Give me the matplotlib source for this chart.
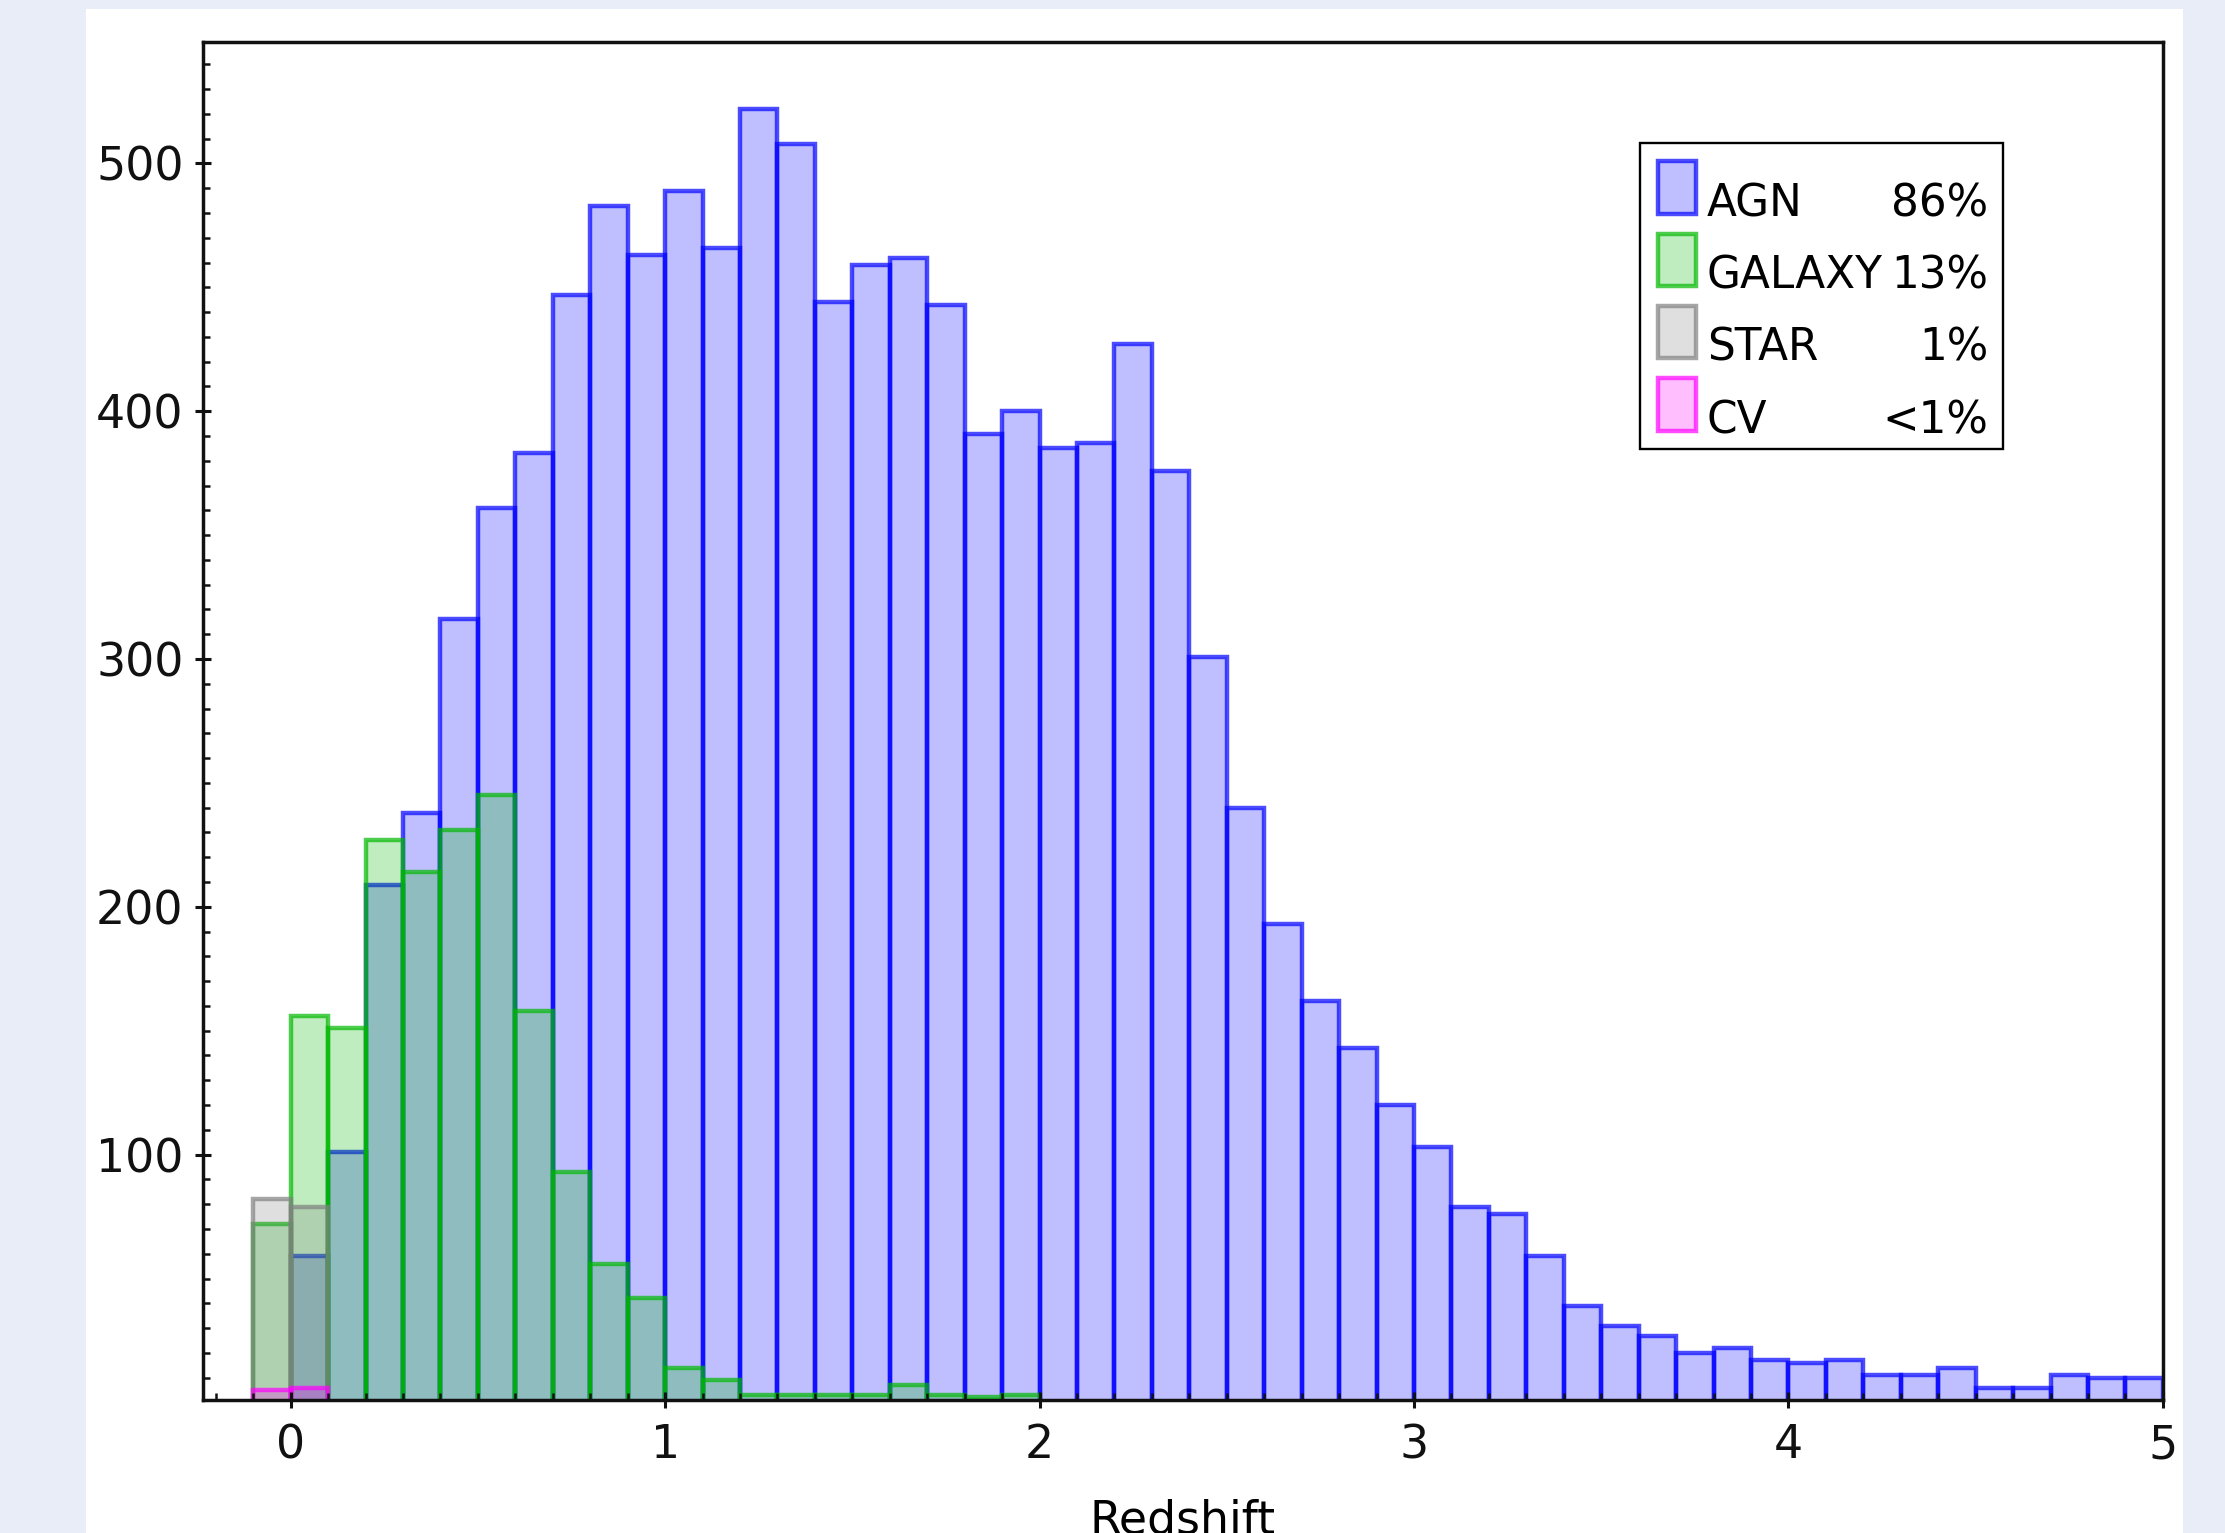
import matplotlib
matplotlib.use("Agg")
import matplotlib.pyplot as plt
from matplotlib.patches import Rectangle
from matplotlib.ticker import MultipleLocator
import numpy as np

# histogram bins: left edges from -0.1 to 4.9, width 0.1
bin_width = 0.1
bin_left = np.round(np.arange(-0.1, 4.95, bin_width), 2)

agn_counts = [0, 59, 101, 209, 238, 316, 361, 383, 447, 483,
              463, 489, 466, 522, 508, 444, 459, 462, 443, 391,
              400, 385, 387, 427, 376, 301, 240, 193, 162, 143,
              120, 103, 79, 76, 59, 39, 31, 27, 20, 22,
              17, 16, 17, 11, 11, 14, 6, 6, 11, 10,
              10]
galaxy_counts = [72, 156, 151, 227, 214, 231, 245, 158, 93, 56,
                 42, 14, 9, 3, 3, 3, 3, 7, 3, 2,
                 3] + [0] * 30
star_counts = [82, 79] + [0] * 49
cv_counts = [5, 6] + [0] * 49

names = ["AGN", "GALAXY", "STAR", "CV"]
percents = ["86%", "13%", "1%", "<1%"]
colors = [(0.0, 0.0, 1.0), (0.0, 0.72, 0.0), (0.5, 0.5, 0.5), (1.0, 0.0, 1.0)]

plt.rcParams["font.family"] = "DejaVu Sans"
plt.rcParams["font.size"] = 33

fig = plt.figure(figsize=(22.25, 15.33), dpi=100, facecolor="#E8EDF8")
fig.add_artist(Rectangle((0.0387, 0.0), 0.9424, 0.9941, transform=fig.transFigure,
                         facecolor="white", edgecolor="none", zorder=-1))
ax = fig.add_axes([0.0911, 0.0868, 0.8810, 0.8858])


def draw_hist(counts, rgb):
    counts = np.array(counts)
    keep = counts > 0
    return ax.bar(bin_left[keep], counts[keep], width=bin_width, align="edge",
                  facecolor=(*rgb, 0.25), edgecolor=(*rgb, 0.7), linewidth=3.2)


handles = []
for counts, rgb in zip([agn_counts, galaxy_counts, star_counts, cv_counts], colors):
    handles.append(draw_hist(counts, rgb))

ax.set_xlim(-0.235, 5.0)
ax.set_ylim(1, 549)
ax.xaxis.set_major_locator(MultipleLocator(1))
ax.xaxis.set_minor_locator(MultipleLocator(0.1))
ax.yaxis.set_major_locator(MultipleLocator(100))
ax.yaxis.set_minor_locator(MultipleLocator(10))
ax.tick_params(which="major", direction="inout", length=11.5, width=2.2, pad=8,
               labelsize=33, colors="#111111")
ax.tick_params(axis="x", which="major", pad=11)
ax.tick_params(which="minor", direction="in", length=5, width=1.8, colors="#111111")
ax.tick_params(top=False, right=False)
for sp in ax.spines.values():
    sp.set_linewidth(2.5)
    sp.set_color("#111111")

ax.set_xlabel("Redshift", fontsize=33, labelpad=22)

leg = ax.legend(handles, names, loc="upper left",
                bbox_to_anchor=(0.7332, 0.5, 0.1852, 0.4256), mode="expand",
                borderaxespad=0, fontsize=31.5, handlelength=0.86, handleheight=1.46,
                labelspacing=0.46, borderpad=0.42, handletextpad=0.25,
                fancybox=False, framealpha=1, edgecolor="black")
leg.get_frame().set_linewidth(1.7)
for txt, pct in zip(leg.get_texts(), percents):
    # names sit low beside the tall swatches, as in the original
    txt.set_y(-14)
    ax.annotate(pct, xy=(1, 0.5), xycoords=(leg, txt), xytext=(-10.5, 0),
                textcoords="offset points", ha="right", va="center",
                fontsize=31.5, zorder=6)

fig.savefig("out.png", dpi=100, facecolor=fig.get_facecolor())
